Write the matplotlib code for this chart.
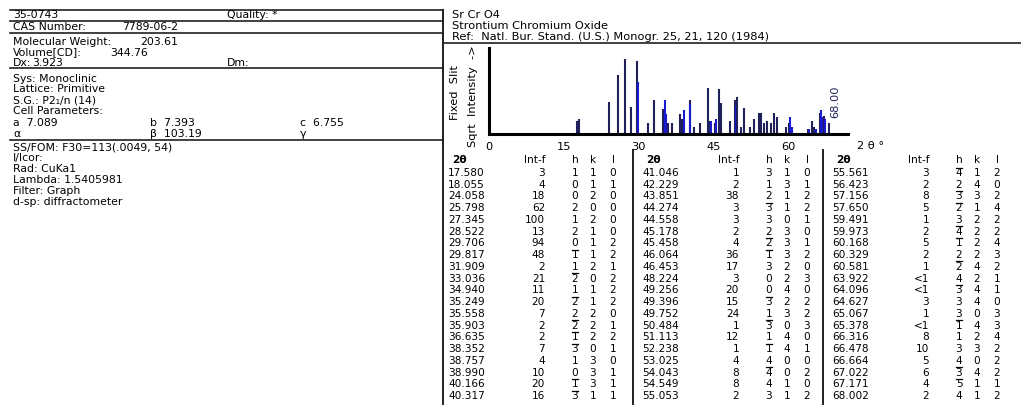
import matplotlib
matplotlib.use("Agg")
import matplotlib.pyplot as plt
import numpy as np

# ---------------- data ----------------
two_theta = [17.580, 18.055, 24.058, 25.798, 27.345, 28.522, 29.706, 29.817, 31.909, 33.036,
             34.940, 35.249, 35.558, 35.903, 36.635, 38.352, 38.757, 38.990, 40.166, 40.317,
             41.046, 42.229, 43.851, 44.274, 44.558, 45.178, 45.458, 46.064, 46.453, 48.224,
             49.256, 49.396, 49.752, 50.484, 51.113, 52.238, 53.025, 54.043, 54.549, 55.053,
             55.561, 56.423, 57.156, 57.650, 59.491, 59.973, 60.168, 60.329, 60.581, 63.922,
             64.096, 64.627, 65.067, 65.378, 66.316, 66.478, 66.664, 67.022, 67.171, 68.002]
int_f = ["3", "4", "18", "62", "100", "13", "94", "48", "2", "21",
         "11", "20", "7", "2", "2", "7", "4", "10", "20", "16",
         "1", "2", "38", "3", "3", "2", "4", "36", "17", "3",
         "20", "15", "24", "1", "12", "1", "4", "8", "8", "2",
         "3", "2", "8", "5", "1", "2", "5", "2", "1", "<1",
         "<1", "3", "1", "<1", "8", "10", "5", "6", "4", "2"]
h_idx = [1, 0, 0, 2, 1, 2, 0, -1, 1, -2,
         1, -2, 2, -2, -1, -3, 1, 0, -1, -3,
         3, 1, 2, -3, 3, 2, -2, -1, 3, 0,
         0, -3, 1, -3, 1, -1, 4, -4, 4, 3,
         -4, 2, -3, -2, 3, -4, -1, 2, -2, 4,
         -3, 3, 3, -1, 1, 3, 4, -3, -5, 4]
k_idx = [1, 1, 2, 0, 2, 1, 1, 1, 2, 0,
         1, 1, 2, 2, 2, 0, 3, 3, 3, 1,
         1, 3, 1, 1, 0, 3, 3, 3, 2, 2,
         4, 2, 3, 0, 4, 4, 0, 0, 1, 1,
         1, 4, 3, 1, 2, 2, 2, 2, 4, 2,
         4, 4, 0, 4, 2, 3, 0, 4, 1, 1]
l_idx = [0, 1, 0, 0, 0, 0, 2, 2, 1, 2,
         2, 2, 0, 1, 2, 1, 0, 1, 1, 1,
         0, 1, 2, 2, 1, 0, 1, 2, 0, 3,
         0, 2, 2, 3, 0, 1, 0, 2, 0, 2,
         2, 0, 2, 4, 2, 2, 4, 3, 2, 1,
         1, 0, 3, 3, 4, 2, 2, 2, 1, 2]
x_ticks = [0, 15, 30, 45, 60]

info_left = [
    ("35-0743", 13, 15), ("Quality: *", 227, 15),
    ("CAS Number:", 13, 27.5), ("7789-06-2", 122, 27.5),
    ("Molecular Weight:", 13, 42), ("203.61", 140, 42),
    ("Volume[CD]:", 13, 52.5), ("344.76", 110, 52.5),
    ("Dx:", 13, 63), ("3.923", 32, 63), ("Dm:", 227, 63),
    ("Sys: Monoclinic", 13, 78.5),
    ("Lattice: Primitive", 13, 89.5),
    ("S.G.: P2\u2081/n (14)", 13, 100.5),
    ("Cell Parameters:", 13, 111.5),
    ("a  7.089", 13, 123), ("b  7.393", 150, 123), ("c  6.755", 300, 123),
    ("\u03b1", 13, 134), ("\u03b2  103.19", 150, 134), ("\u03b3", 300, 134),
    ("SS/FOM: F30=113(.0049, 54)", 13, 147),
    ("I/Icor:", 13, 158),
    ("Rad: CuKa1", 13, 169),
    ("Lambda: 1.5405981", 13, 180),
    ("Filter: Graph", 13, 191),
    ("d-sp: diffractometer", 13, 202),
]
info_right = [
    ("Sr Cr O4", 452, 15),
    ("Strontium Chromium Oxide", 452, 26),
    ("Ref:  Natl. Bur. Stand. (U.S.) Monogr. 25, 21, 120 (1984)", 452, 37),
]

# ---------------- figure ----------------
W, H = 1021, 405
fig = plt.figure(figsize=(W / 100, H / 100), dpi=100)
fig.patch.set_facecolor("white")
bg = fig.add_axes([0, 0, 1, 1])
bg.set_xlim(0, W)
bg.set_ylim(H, 0)
bg.axis("off")

FONT = "DejaVu Sans"
fs_info = 7.8
fs_right = 8.2
fs_tab = 7.6
navy = "#20205a"
blue = "#1a1ad0"
linec = "#202020"

for txt, x, y in info_left:
    bg.text(x, y, txt, fontsize=fs_info, family=FONT, va="center", ha="left", color="black")
for txt, x, y in info_right:
    bg.text(x, y, txt, fontsize=fs_right, family=FONT, va="center", ha="left", color="black")

# frame lines
sep_x = 443
for yy in [10, 21, 33, 68, 140]:
    bg.plot([10, sep_x], [yy, yy], color=linec, lw=1.2)
bg.plot([sep_x, sep_x], [10, H], color=linec, lw=1.4)
bg.plot([sep_x, W], [43, 43], color=linec, lw=1.2)

# ---------------- stick pattern ----------------
x0_px, x1_px = 488.7, 848
y0_px, y1_px = 134, 48
px_per_deg = 5.0
ax = fig.add_axes([x0_px / W, 1 - y0_px / H, (x1_px - x0_px) / W, (y0_px - y1_px) / H])
ax.set_xlim(0, (x1_px - x0_px) / px_per_deg)
ax.set_ylim(0, 11.47)
ax.patch.set_alpha(0)
for s in ["top", "right"]:
    ax.spines[s].set_visible(False)
for s in ["left", "bottom"]:
    ax.spines[s].set_linewidth(2.2)
    ax.spines[s].set_color("black")
ax.set_yticks([])
ax.set_xticks(x_ticks)
ax.set_xticklabels([str(t) for t in x_ticks], fontsize=fs_right, family=FONT)
ax.tick_params(axis="x", length=0, pad=6)

int_num = [0.5 if s.startswith("<") else float(s) for s in int_f]
heights = np.sqrt(int_num)
for i, (tt, hh) in enumerate(zip(two_theta, heights)):
    close = i > 0 and (tt - two_theta[i - 1]) < 0.32
    ax.vlines(tt, 0, hh, color=blue if close else navy, lw=1.5)

ax.text(two_theta[-1] + 1.4, 2.2, "68.00", rotation=90, fontsize=fs_right, family=FONT,
        color=navy, ha="center", va="bottom")
bg.text(857, 146, "2 \u03b8 \u00b0", fontsize=fs_right, family=FONT, va="center", ha="left")

bg.text(455, 93, "Fixed  Slit", rotation=90, fontsize=fs_right, family=FONT, ha="center", va="center")
bg.text(473, 96, "Sqrt  Intensity  ->", rotation=90, fontsize=fs_right, family=FONT, ha="center", va="center")

# ---------------- table ----------------
col_x = [448, 642, 832]
off_int, off_h, off_k, off_l = 97, 127, 145, 165
header_y = 160
row0 = 173
dy = (396 - 173) / 19.0
for c, cx in enumerate(col_x):
    bg.text(cx + 4, header_y, "2\u03b8", fontsize=fs_tab, family=FONT, va="center", ha="left",
            fontweight="bold")
    bg.text(cx + off_int, header_y, "Int-f", fontsize=fs_tab, family=FONT, va="center", ha="right")
    bg.text(cx + off_h, header_y, "h", fontsize=fs_tab, family=FONT, va="center", ha="center")
    bg.text(cx + off_k, header_y, "k", fontsize=fs_tab, family=FONT, va="center", ha="center")
    bg.text(cx + off_l, header_y, "l", fontsize=fs_tab, family=FONT, va="center", ha="center")
    for r in range(20):
        i = c * 20 + r
        y = row0 + r * dy
        bg.text(cx, y, f"{two_theta[i]:.3f}", fontsize=fs_tab, family=FONT, va="center", ha="left")
        bg.text(cx + off_int, y, int_f[i], fontsize=fs_tab, family=FONT, va="center", ha="right")
        bg.text(cx + off_h, y, str(abs(h_idx[i])), fontsize=fs_tab, family=FONT, va="center", ha="center")
        if h_idx[i] < 0:
            bg.plot([cx + off_h - 3, cx + off_h + 3], [y - 5.5, y - 5.5], color="black", lw=0.9)
        bg.text(cx + off_k, y, str(k_idx[i]), fontsize=fs_tab, family=FONT, va="center", ha="center")
        bg.text(cx + off_l, y, str(l_idx[i]), fontsize=fs_tab, family=FONT, va="center", ha="center")

for sx in [633, 823]:
    bg.plot([sx, sx], [150, H], color=linec, lw=1.4)

fig.savefig("out.png", dpi=100, facecolor="white")
